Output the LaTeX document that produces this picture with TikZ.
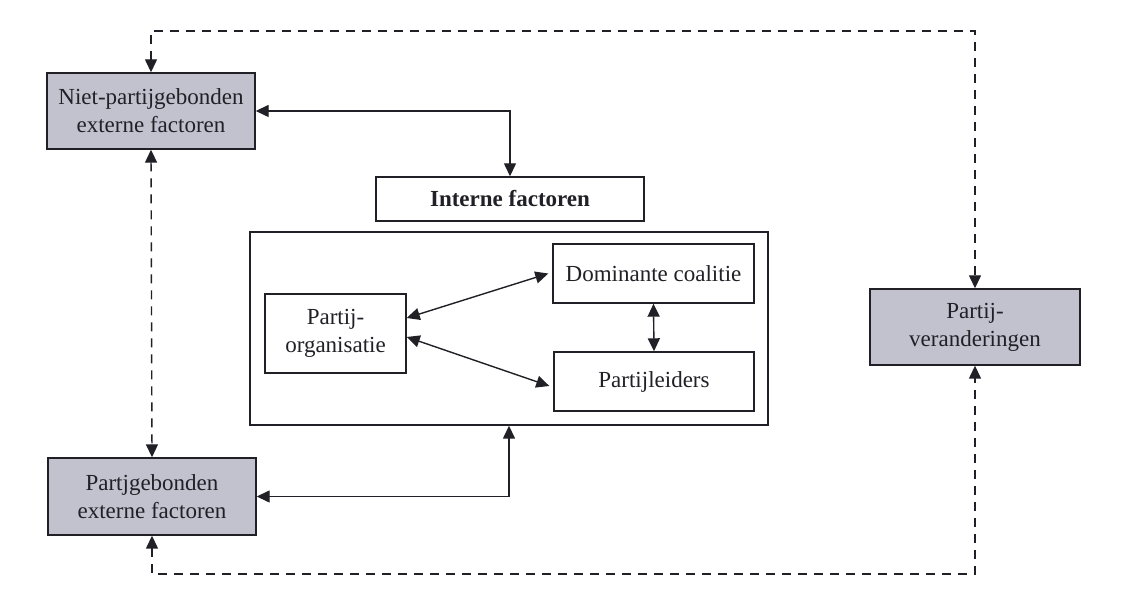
\documentclass[tikz,border=0pt]{standalone}
\usepackage{fontspec}
\setmainfont{Liberation Serif}
\usetikzlibrary{arrows.meta}
\definecolor{boxgrey}{RGB}{194,194,206}
\definecolor{ink}{RGB}{32,32,38}
\tikzset{
  every node/.style={font=\fontsize{23}{28}\selectfont, text=ink},
  box/.style={draw=ink, line width=1.4pt, rectangle, inner sep=0pt, align=center},
  extbox/.style={box, fill=boxgrey},
  link/.style={draw=ink, line width=1.4pt, {Triangle[length=13pt,width=12pt]}-{Triangle[length=13pt,width=12pt]}},
  dashlink/.style={link, dash pattern=on 9pt off 7pt},
}
\begin{document}
\begin{tikzpicture}[x=1pt,y=1pt]
\useasboundingbox (0,0) rectangle (1130,596);
\fill[white] (0,0) rectangle (1130,596);

% outer factors (grey)
\node[extbox, minimum width=208, minimum height=76] (niet) at (151,485) {Niet-partijgebonden\\externe factoren};
\node[extbox, minimum width=208, minimum height=77] (partj) at (152,99.5) {Partjgebonden\\externe factoren};
\node[extbox, minimum width=210, minimum height=76] (verand) at (975,269) {Partij-\\veranderingen};

% internal factors
\node[box, minimum width=268, minimum height=44, font=\fontsize{23}{28}\selectfont\bfseries] (interne) at (510,397) {Interne factoren};
\node[box, minimum width=518, minimum height=193] (outer) at (509,267.5) {};
\node[box, minimum width=141, minimum height=79] (org) at (335.5,262.5) {Partij-\\organisatie};
\node[box, minimum width=201, minimum height=59] (dom) at (653.5,322.5) {Dominante coalitie};
\node[box, minimum width=200, minimum height=59] (leid) at (654,214.5) {Partijleiders};

% route points of the dashed feedback loop
\coordinate (topline) at (560,565);
\coordinate (botline) at (560,22);

% solid connectors
\draw[link] (niet.east) -| (interne.north);
\draw[link] (partj.east) -| (outer.south);
\draw[link] ([yshift=15.5]org.east) -- ([xshift=-4pt]dom.west);
\draw[link] ([yshift=-3.5]org.east) -- ([xshift=-4pt,yshift=-4.5]leid.west);
\draw[link] (dom.south) -- (leid.north);

% dashed connectors
\draw[dashlink] (niet.south) -- (partj.north);
\draw[dashlink] (niet.north) |- (topline) -| (verand.north);
\draw[dashlink] (partj.south) |- (botline) -| (verand.south);
\end{tikzpicture}
\end{document}
